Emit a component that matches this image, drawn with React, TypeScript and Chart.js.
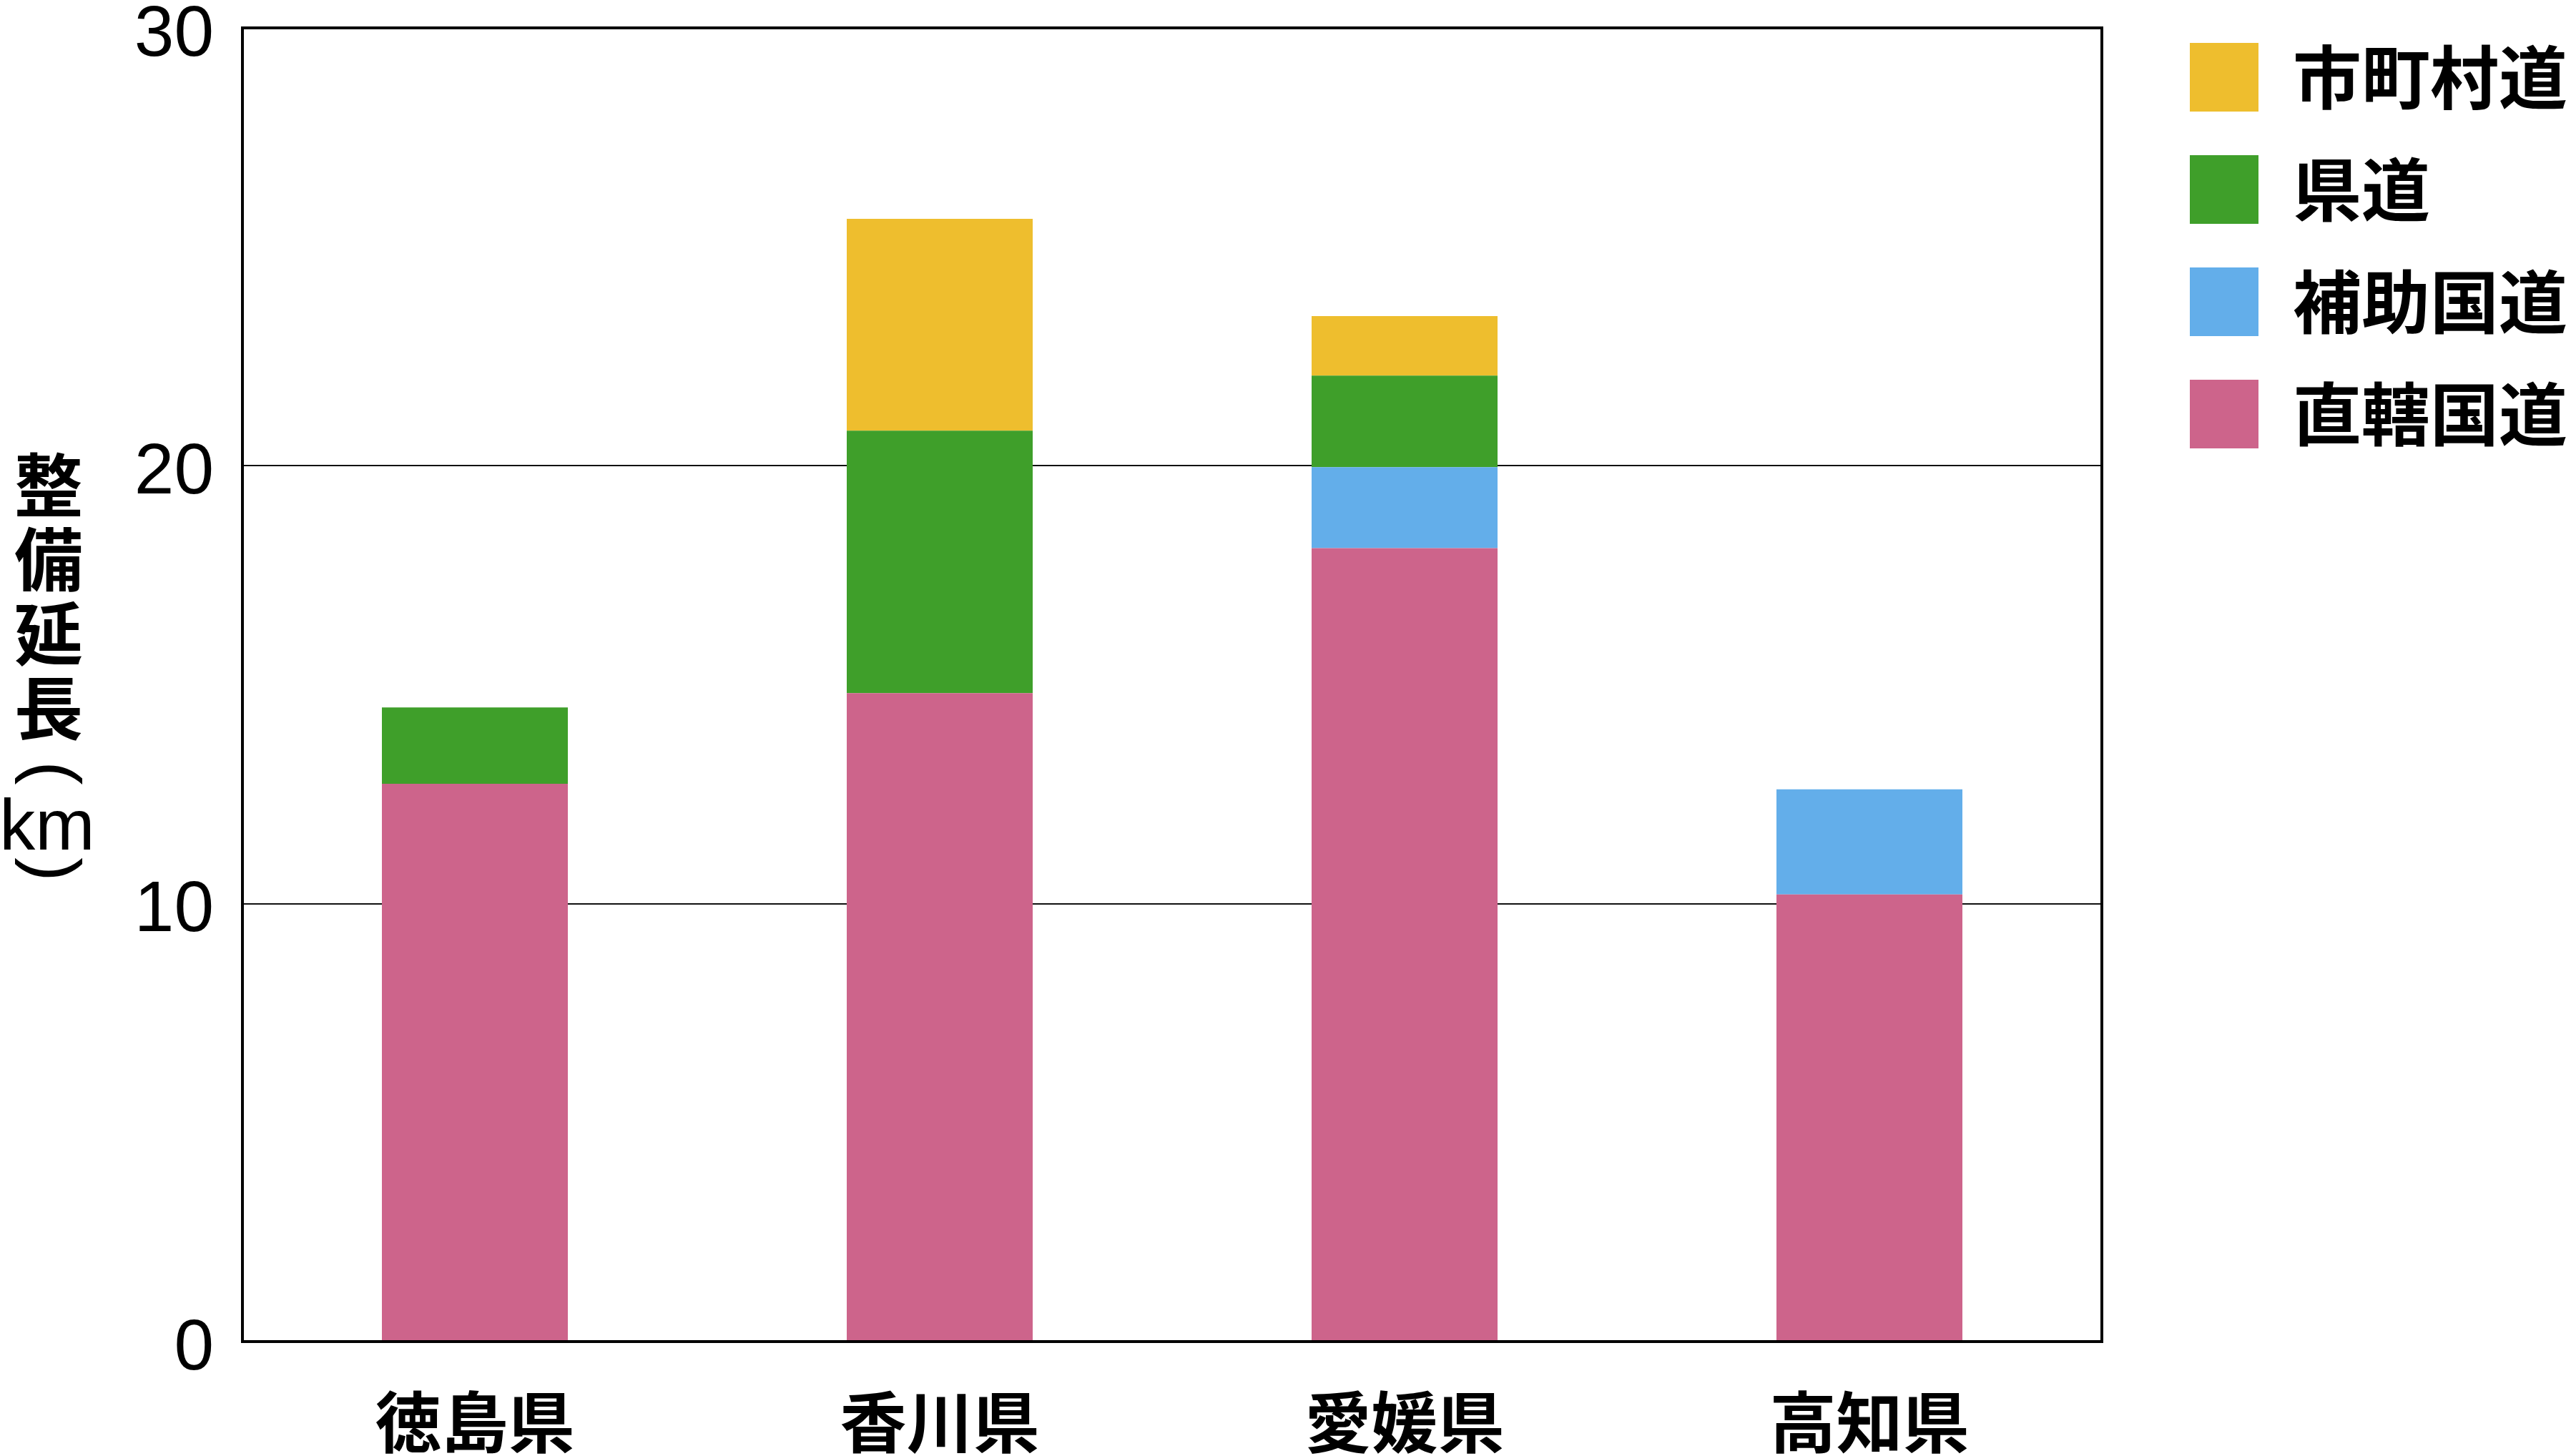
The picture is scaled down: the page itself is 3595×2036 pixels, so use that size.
import React, { useEffect, useRef } from "react";
import { Chart, registerables } from "chart.js";

Chart.register(...registerables);

// ---- data ----
const categories = ["徳島県", "香川県", "愛媛県", "高知県"];
const seriesNames = ["直轄国道", "補助国道", "県道", "市町村道"];
const chokkatsuKokudo = [12.74, 14.81, 18.12, 10.21];
const hojoKokudo = [0, 0, 1.85, 2.4];
const kendo = [1.74, 5.99, 2.09, 0];
const shichosonDo = [0, 4.84, 1.36, 0];
const seriesColors = ["#CD648B", "#63AEEA", "#3F9F2A", "#EEBE2E"];
const yMin = 0;
const yMax = 30;
const yStep = 10;
const yTitleChars = ["整", "備", "延", "長"];
const yTitleUnit = "km";

const W = 3595;
const H = 2036;
const CJK = '"Noto Sans CJK JP", "Noto Sans CJK SC", sans-serif';
const LATIN = '"Liberation Sans", Arial, sans-serif';

const framePlugin = {
  id: "frame",
  afterDraw(chart: any) {
    const { ctx, chartArea } = chart;
    ctx.save();
    ctx.strokeStyle = "#000";
    ctx.lineWidth = 4;
    ctx.strokeRect(chartArea.left, chartArea.top, chartArea.right - chartArea.left, chartArea.bottom - chartArea.top);
    ctx.restore();
  },
};

const legendPlacePlugin = {
  id: "legendPlace",
  afterLayout(chart: any) {
    const lg = chart.legend;
    if (!lg) return;
    const pad = lg.options.labels.padding;
    lg.left = 3062 - pad;
    lg.right = W;
    lg.width = lg.right - lg.left;
    lg.top = 60 - pad;
    lg.bottom = H;
    lg.height = lg.bottom - lg.top;
  },
};

const yTitlePlugin = {
  id: "yTitleVertical",
  afterDraw(chart: any) {
    const { ctx, chartArea } = chart;
    const S = chartArea.top + 599;
    const x = 68;
    ctx.save();
    ctx.fillStyle = "#000";
    ctx.textAlign = "center";
    ctx.textBaseline = "middle";
    ctx.font = `bold 96px ${CJK}`;
    yTitleChars.forEach((c, i) => {
      ctx.fillText(c, x, S + 40 + i * 104);
    });
    ctx.font = `100px ${LATIN}`;
    ctx.textBaseline = "alphabetic";
    const drawRot = (ch: string, yc: number) => {
      ctx.save();
      ctx.translate(x, yc);
      ctx.rotate(Math.PI / 2);
      ctx.fillText(ch, 0, 26);
      ctx.restore();
    };
    drawRot("(", S + 443);
    ctx.fillText(yTitleUnit, 66, S + 550);
    drawRot(")", S + 578);
    ctx.restore();
  },
};

export default function App() {
  const ref = useRef<HTMLCanvasElement | null>(null);
  useEffect(() => {
    document.body.style.margin = "0";
    document.body.style.overflow = "hidden";
    if (!ref.current) return;
    const values = [chokkatsuKokudo, hojoKokudo, kendo, shichosonDo];
    const chart = new Chart(ref.current, {
      type: "bar",
      data: {
        labels: categories,
        datasets: seriesNames.map((name, i) => ({
          label: name,
          data: values[i],
          backgroundColor: seriesColors[i],
          borderWidth: 0,
          categoryPercentage: 0.8,
          barPercentage: 0.5,
        })),
      },
      options: {
        responsive: false,
        animation: false,
        devicePixelRatio: 1,
        layout: { padding: { top: 39, left: 0, right: 156, bottom: 0 } },
        plugins: {
          tooltip: { enabled: false },
          title: { display: false },
          legend: {
            position: "right",
            align: "start",
            reverse: true,
            maxWidth: 500,
            labels: {
              boxWidth: 96,
              boxHeight: 96,
              padding: 61,
              color: "#000",
              font: { family: CJK, size: 96, weight: "bold" },
            },
          },
        },
        scales: {
          x: {
            stacked: true,
            grid: { display: false },
            border: { display: false },
            ticks: {
              color: "#000",
              padding: 49,
              font: { family: CJK, size: 93, weight: "bold" },
            },
            afterFit: (s: any) => {
              s.height = 160;
              s.paddingLeft = 0;
              s.paddingRight = 0;
            },
          },
          y: {
            stacked: true,
            min: yMin,
            max: yMax,
            z: 1,
            grid: { color: "#111", lineWidth: 2, drawTicks: false },
            border: { display: false },
            ticks: {
              stepSize: yStep,
              color: "#000",
              padding: 40,
              labelOffset: 11,
              font: { family: LATIN, size: 100 },
            },
            afterFit: (s: any) => {
              s.width = 339;
              s.paddingTop = 0;
              s.paddingBottom = 0;
            },
          },
        },
      },
      plugins: [legendPlacePlugin, framePlugin, yTitlePlugin],
    });
    return () => chart.destroy();
  }, []);
  return (
    <div style={{ position: "fixed", left: 0, top: 0, width: W, height: H, background: "#fff" }}>
      <canvas ref={ref} width={W} height={H} style={{ display: "block", width: W, height: H }} />
    </div>
  );
}
